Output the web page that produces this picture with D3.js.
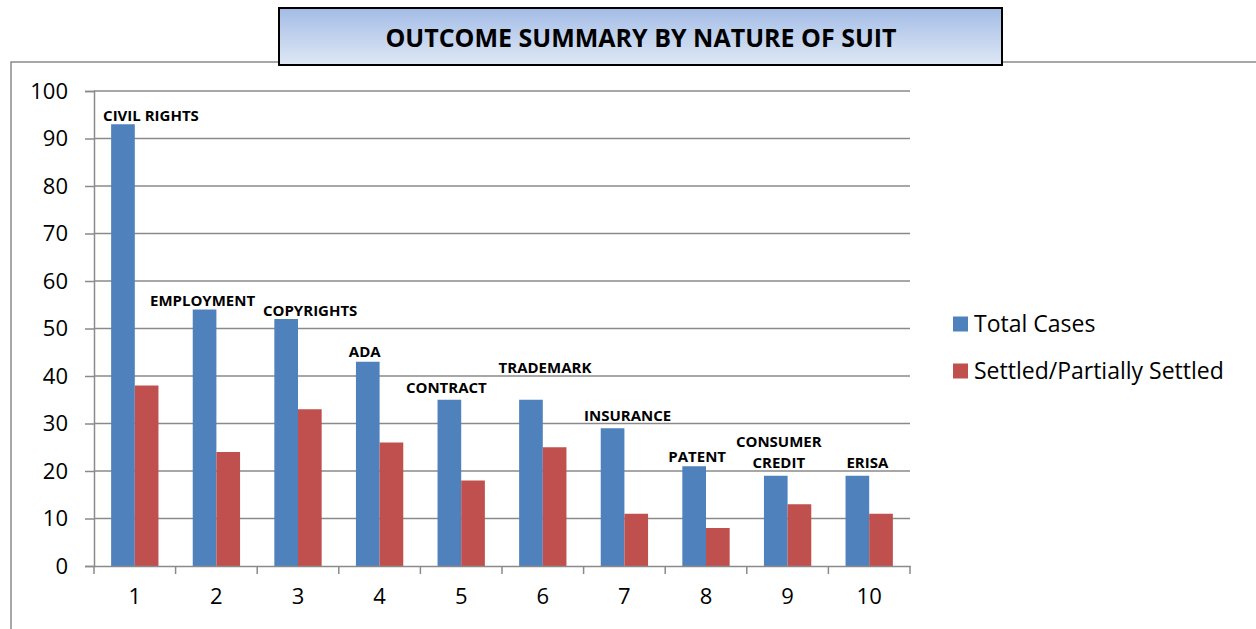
<!DOCTYPE html>
<html>
<head>
<meta charset="utf-8">
<script src="https://cdn.jsdelivr.net/npm/d3@7"></script>
<style>
  body { margin: 0; background: #fff; }
  svg { display: block; }
</style>
</head>
<body>
<svg id="chart" width="1256" height="629"></svg>
<script>
// Chart values
const categories = ["1", "2", "3", "4", "5", "6", "7", "8", "9", "10"];
const suitNames = ["CIVIL RIGHTS", "EMPLOYMENT", "COPYRIGHTS", "ADA", "CONTRACT",
  "TRADEMARK", "INSURANCE", "PATENT", "CONSUMER\nCREDIT", "ERISA"];
const totalCases = [93, 54, 52, 43, 35, 35, 29, 21, 19, 19];
const settledCases = [38, 24, 33, 26, 18, 25, 11, 8, 13, 11];
const seriesNames = ["Total Cases", "Settled/Partially Settled"];
const yTicks = [0, 10, 20, 30, 40, 50, 60, 70, 80, 90, 100];

// hand placement of the data labels (pixels, relative to blue bar centre / top)
const labelDx = [28, -2, 24, -3, -3, 14, 15, 3, 3, 10];
const labelDy = [-3, -4, -3, -5, -7, -27, -7, -4, -8, -8];

const colors = ["#4f81bd", "#c0504d"];
const gridColor = "#8a8a8a";

const svg = d3.select("#chart");
const margin = { left: 94, right: 346, top: 91, bottom: 63 };
const width = 1256 - margin.left - margin.right;
const height = 629 - margin.top - margin.bottom;

// outer chart frame (only top and left edges are visible)
svg.append("path")
  .attr("d", "M11,629 L11,62 L1256,62")
  .attr("fill", "none")
  .attr("stroke", gridColor)
  .attr("stroke-width", 1.5);

// title box with gradient
const defs = svg.append("defs");
const grad = defs.append("linearGradient")
  .attr("id", "titleGrad")
  .attr("x1", 0).attr("y1", 0).attr("x2", 0).attr("y2", 1);
grad.append("stop").attr("offset", "0%").attr("stop-color", "#a3bce6");
grad.append("stop").attr("offset", "100%").attr("stop-color", "#dfe8f5");

svg.append("rect")
  .attr("x", 279).attr("y", 8)
  .attr("width", 723).attr("height", 57)
  .attr("fill", "url(#titleGrad)")
  .attr("stroke", "#000")
  .attr("stroke-width", 2);

svg.append("text")
  .attr("x", 641).attr("y", 47)
  .attr("text-anchor", "middle")
  .style("font-family", "'Open Sans', sans-serif")
  .style("font-weight", "bold")
  .style("font-size", "25px")
  .text("OUTCOME SUMMARY BY NATURE OF SUIT");

const chart = svg.append("g")
  .attr("transform", `translate(${margin.left},${margin.top})`);

const x = d3.scaleBand()
  .domain(categories)
  .range([0, width])
  .paddingInner(0.42)
  .paddingOuter(0.21);

const xSub = d3.scaleBand()
  .domain(seriesNames)
  .range([0, x.bandwidth()]);

const y = d3.scaleLinear()
  .domain([0, 100])
  .range([height, 0]);

// gridlines
chart.append("g")
  .selectAll("line")
  .data(yTicks.filter(d => d > 0))
  .enter()
  .append("line")
  .attr("x1", 0).attr("x2", width)
  .attr("y1", d => y(d)).attr("y2", d => y(d))
  .attr("stroke", gridColor)
  .attr("stroke-width", 1.5);

// bars
const rows = categories.map((c, i) => ({
  cat: c,
  values: [totalCases[i], settledCases[i]]
}));

const groups = chart.selectAll(".grp")
  .data(rows)
  .enter()
  .append("g")
  .attr("class", "grp")
  .attr("transform", d => `translate(${x(d.cat)},0)`);

groups.selectAll("rect")
  .data(d => d.values.map((v, j) => ({ series: seriesNames[j], v: v, j: j })))
  .enter()
  .append("rect")
  .attr("x", d => xSub(d.series))
  .attr("y", d => y(d.v))
  .attr("width", xSub.bandwidth())
  .attr("height", d => height - y(d.v))
  .attr("fill", d => colors[d.j]);

// Y axis
const yAxis = chart.append("g")
  .call(d3.axisLeft(y).tickValues(yTicks).tickSize(9).tickPadding(17));
yAxis.select(".domain").attr("stroke", gridColor).attr("stroke-width", 1.5);
yAxis.selectAll(".tick line").attr("stroke", gridColor).attr("stroke-width", 1.5);
yAxis.selectAll("text")
  .style("font-family", "'Open Sans', sans-serif")
  .style("font-size", "22px")
  .attr("fill", "#000");

// X axis, ticks sit on category boundaries
const xAxis = chart.append("g")
  .attr("transform", `translate(0,${height})`)
  .call(d3.axisBottom(x).tickSize(0).tickPadding(22));
xAxis.select(".domain").attr("stroke", gridColor).attr("stroke-width", 1.5);
xAxis.selectAll("text")
  .style("font-family", "'Open Sans', sans-serif")
  .style("font-size", "22px")
  .attr("fill", "#000");
xAxis.selectAll(".sep")
  .data(d3.range(categories.length + 1))
  .enter()
  .append("line")
  .attr("class", "sep")
  .attr("x1", i => i * x.step()).attr("x2", i => i * x.step())
  .attr("y1", 0).attr("y2", 8)
  .attr("stroke", gridColor)
  .attr("stroke-width", 1.5);

// data labels over the blue bars
const labels = chart.selectAll(".lbl")
  .data(rows)
  .enter()
  .append("text")
  .attr("class", "lbl")
  .attr("text-anchor", "middle")
  .style("font-family", "'Open Sans', sans-serif")
  .style("font-weight", "bold")
  .style("font-size", "15px")
  .attr("fill", "#000")
  .attr("transform", (d, i) =>
    `translate(${x(d.cat) + xSub(seriesNames[0]) + xSub.bandwidth() / 2 + labelDx[i]},${y(totalCases[i]) + labelDy[i]})`);

labels.each(function (d, i) {
  const lines = suitNames[i].split("\n");
  d3.select(this).selectAll("tspan")
    .data(lines)
    .enter()
    .append("tspan")
    .attr("x", 0)
    .attr("y", (l, k) => (k - (lines.length - 1)) * 21)
    .text(l => l);
});

// legend
const legend = svg.append("g")
  .attr("transform", "translate(953,0)");
const legendY = [324, 371];
seriesNames.forEach((name, j) => {
  legend.append("rect")
    .attr("x", 0).attr("y", legendY[j] - 7.5)
    .attr("width", 15).attr("height", 15)
    .attr("fill", colors[j]);
  legend.append("text")
    .attr("x", 21).attr("y", legendY[j] + 8)
    .style("font-family", "'Open Sans', sans-serif")
    .style("font-size", "23px")
    .attr("fill", "#000")
    .text(name);
});
</script>
</body>
</html>
